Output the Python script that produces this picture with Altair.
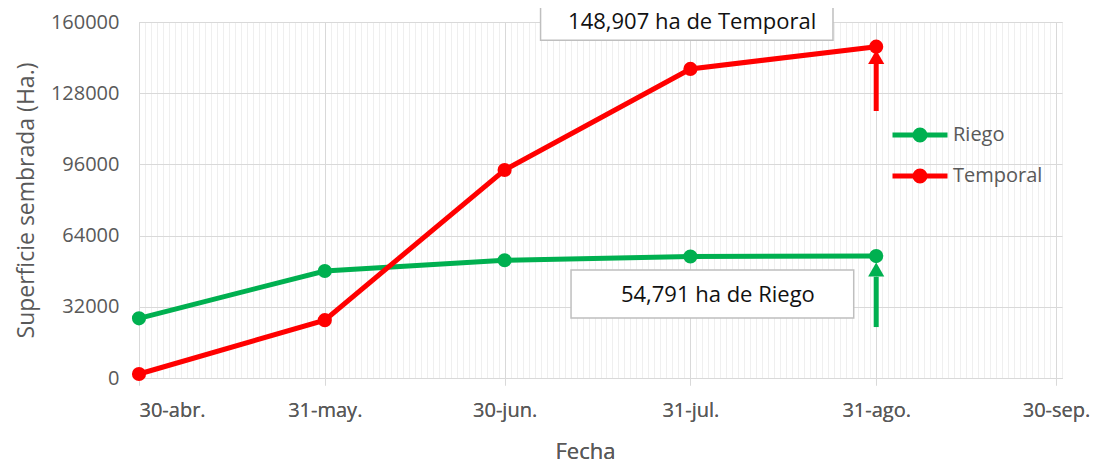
import json
import altair as alt
import pandas as pd

# ---------------- data ----------------
fechas = ["2020-04-30", "2020-05-31", "2020-06-30", "2020-07-31", "2020-08-31"]
riego = [26800, 48100, 52900, 54600, 54791]
temporal = [1800, 26000, 93500, 138900, 148907]
series = ["Riego", "Temporal"]
colores = ["#00b050", "#ff0000"]

meses = ["ene.", "feb.", "mar.", "abr.", "may.", "jun.", "jul.", "ago.", "sep.", "oct.", "nov.", "dic."]
x_ticks = [(2020, 4, 30), (2020, 5, 31), (2020, 6, 30), (2020, 7, 31), (2020, 8, 31), (2020, 9, 30)]
x_domain = [(2020, 4, 30), (2020, 10, 1)]
y_ticks = [0, 32000, 64000, 96000, 128000, 160000]

# annotation boxes (text, box x-range, box y-range, text anchor)
anot_texto = ["148,907 ha de Temporal", "54,791 ha de Riego"]
anot_x1 = ["2020-07-06T00:00:00Z", "2020-07-11T02:00:00Z"]
anot_x2 = ["2020-08-23T19:00:00Z", "2020-08-27T06:00:00Z"]
anot_y1 = [151800, 26966]
anot_y2 = [170000, 48539]
anot_tx = ["2020-07-31T07:00:00Z", "2020-08-04T14:00:00Z"]
anot_ty = [160000, 37303]

# arrows pointing at the final values
flecha_serie = ["Temporal", "Riego"]
flecha_x = ["2020-08-31", "2020-08-31"]
flecha_y0 = [120000, 22900]
flecha_y1 = [142000, 45500]
flecha_punta = [144300, 48800]

# ---------------- tables ----------------
df = pd.DataFrame({
    "fecha": fechas * 2,
    "valor": riego + temporal,
    "serie": [series[0]] * len(fechas) + [series[1]] * len(fechas),
})
df_anot = pd.DataFrame({"texto": anot_texto, "x1": anot_x1, "x2": anot_x2,
                        "y1": anot_y1, "y2": anot_y2, "tx": anot_tx, "ty": anot_ty})
df_fl = pd.DataFrame({"serie": flecha_serie, "x": flecha_x, "y0": flecha_y0,
                      "y1": flecha_y1, "punta": flecha_punta})

GRAY = "#595959"
FONT = "Open Sans"

def dt(t):
    return alt.DateTime(year=t[0], month=t[1], date=t[2], utc=True)

xscale = alt.Scale(type="utc", domain=[dt(t) for t in x_domain], nice=False)
yscale = alt.Scale(domain=[0, 160000], nice=False)
cscale = alt.Scale(domain=series, range=colores)

label_expr = "utcFormat(datum.value, '%d') + '-' + " + json.dumps(meses) + "[utcmonth(datum.value)]"

main_x_axis = alt.Axis(values=[dt(t) for t in x_ticks], labelExpr=label_expr, grid=True,
                       gridColor="#d9d9d9", tickColor="#d9d9d9", tickSize=7, domainColor="#d9d9d9",
                       labelFontSize=20, labelColor=GRAY, labelFont=FONT, labelPadding=15,
                       title="Fecha", titleFontSize=22, titleColor=GRAY, titleFont=FONT,
                       titleFontWeight="normal", titlePadding=21, titleX=446)
y_axis = alt.Axis(values=y_ticks, format="d", grid=True, gridColor="#d9d9d9", ticks=False, domain=False,
                  labelFontSize=20, labelColor=GRAY, labelFont=FONT, labelPadding=20,
                  title="Superficie sembrada (Ha.)", titleFontSize=23, titleColor=GRAY,
                  titleFont=FONT, titleFontWeight="normal", titlePadding=12)

sym = ("M-1,0L1,0 "
       "M0.182,0A0.182,0.182 0 1,1 -0.182,0A0.182,0.182 0 1,1 0.182,0 "
       "M0.091,0A0.091,0.091 0 1,1 -0.091,0A0.091,0.091 0 1,1 0.091,0")
legend = alt.Legend(orient="none", legendX=751, legendY=103, title=None, symbolType=sym,
                    symbolSize=3025, symbolStrokeWidth=5, clipHeight=20, rowPadding=21,
                    labelOffset=3, labelFontSize=20, labelColor=GRAY, labelFont=FONT, padding=0)

# minor daily gridlines
minor = alt.Chart(df).mark_rule(opacity=0).encode(
    x=alt.X("fecha:T", scale=xscale,
            axis=alt.Axis(orient="top", grid=True, gridColor="#efefef", labels=False, ticks=False,
                          domain=False, title=None,
                          tickCount=alt.TimeIntervalStep(interval="day", step=1)))
)

base = alt.Chart(df).encode(
    x=alt.X("fecha:T", scale=xscale, axis=main_x_axis),
    y=alt.Y("valor:Q", scale=yscale, axis=y_axis),
    color=alt.Color("serie:N", scale=cscale, legend=legend),
)
lines = base.mark_line(strokeWidth=5)
points = base.mark_point(filled=True, size=200, opacity=1)

rects = alt.Chart(df_anot).mark_rect(fill="white", stroke="#bfbfbf", strokeWidth=1.5).encode(
    x=alt.X("x1:T", axis=None), x2="x2:T", y=alt.Y("y1:Q", axis=y_axis), y2="y2:Q")
texts = alt.Chart(df_anot).mark_text(font=FONT, fontSize=22, color="#111111").encode(
    x=alt.X("tx:T", axis=None), y=alt.Y("ty:Q", axis=y_axis), text="texto:N")

shafts = alt.Chart(df_fl).mark_rule(strokeWidth=5).encode(
    x=alt.X("x:T", axis=None), y=alt.Y("y0:Q", axis=y_axis), y2="y1:Q",
    color=alt.Color("serie:N", scale=cscale, legend=None))
heads = alt.Chart(df_fl).mark_point(shape="triangle-up", filled=True, size=260, opacity=1).encode(
    x=alt.X("x:T", axis=None), y=alt.Y("punta:Q", axis=y_axis),
    color=alt.Color("serie:N", scale=cscale, legend=None))

chart = alt.layer(minor, lines, points, shafts, heads, rects, texts).resolve_axis(
    x="independent"
).properties(
    width=923, height=356,
    autosize=alt.AutoSizeParams(type="none"),
    padding={"left": 131, "top": 14, "right": 28, "bottom": 88},
).configure_view(stroke="#d9d9d9", strokeWidth=1)

chart.save("out.html", embed_options={"renderer": "svg", "actions": False})
